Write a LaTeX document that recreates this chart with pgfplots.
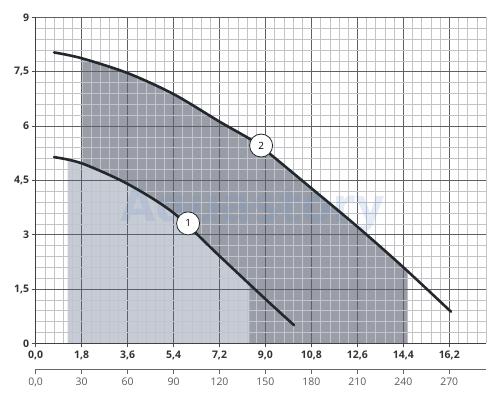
\documentclass[border=0pt]{standalone}
\usepackage{pgfplots}
\pgfplotsset{compat=1.18}
\usepgfplotslibrary{fillbetween}
\usepackage{fontspec}
\setmainfont{Open Sans}
\newfontfamily\wmfont{DejaVu Sans}
\definecolor{darkfill}{RGB}{152,157,168}
\definecolor{lightfill}{RGB}{198,204,214}
\definecolor{curvecol}{RGB}{35,40,45}
\definecolor{majgrid}{RGB}{95,95,100}
\definecolor{mingrid}{RGB}{195,195,200}
\definecolor{wm}{RGB}{110,150,200}
\begin{document}
\begin{tikzpicture}
\begin{axis}[
  set layers,
  at={(35.7bp,56.7bp)}, anchor=south west,
  scale only axis, width=450.3bp, height=326bp,
  xmin=0, xmax=17.64, ymin=0, ymax=9,
  axis x line*=bottom, axis y line*=left,
  axis line style={-, draw=black!75, line width=1.1bp},
  xtick={0,1.8,3.6,5.4,7.2,9,10.8,12.6,14.4,16.2},
  xticklabels={{0,0},{1,8},{3,6},{5,4},{7,2},{9,0},{10,8},{12,6},{14,4},{16,2}},
  ytick={0,1.5,3,4.5,6,7.5,9},
  yticklabels={0,{1,5},3,{4,5},6,{7,5},9},
  minor xtick={0,0.36,...,17.7},
  minor ytick={0,0.3,...,9.1},
  grid=both,
  major grid style={majgrid, line width=0.7bp},
  minor grid style={mingrid, line width=0.5bp},
  tick align=outside, major tick length=4bp, minor tick length=0pt,
  tick style={black!70, line width=0.8bp},
  ticklabel style={font=\fontsize{10.5}{12}\selectfont\bfseries, text=black!80},
  yticklabel style={xshift=1bp},
]
\addplot[name path=base, draw=none, forget plot] coordinates {(0,0) (17.64,0)};
\addplot[name path=c2, draw=none, smooth, forget plot] coordinates {
 (0.72,8.03) (1.8,7.87) (3.6,7.46) (5.4,6.88) (7.2,6.12) (8.44,5.62) (9.0,5.33)
 (10.8,4.28) (12.6,3.22) (14.4,2.10) (16.27,0.87)};
\addplot[name path=c1, draw=none, smooth, forget plot] coordinates {
 (0.72,5.14) (1.8,4.97) (3.6,4.40) (5.4,3.60) (7.2,2.41) (9.0,1.22) (10.12,0.50)};
\addplot[darkfill, forget plot] fill between[of=c2 and base, soft clip={(axis cs:1.83,-1) rectangle (axis cs:14.57,10)}, on layer=axis background];
\addplot[lightfill, forget plot] fill between[of=c1 and base, soft clip={(axis cs:1.25,-1) rectangle (axis cs:8.37,10)}, on layer=axis background];
\node[anchor=base, font=\wmfont\bfseries\fontsize{46}{50}\selectfont, text=wm, opacity=0.18] at (axis cs:8.5,3.35) {Aquastory};
\addplot[curvecol, line width=2.6bp, smooth, line cap=round] coordinates {
 (0.72,8.03) (1.8,7.87) (3.6,7.46) (5.4,6.88) (7.2,6.12) (8.44,5.62) (9.0,5.33)
 (10.8,4.28) (12.6,3.22) (14.4,2.10) (16.27,0.87)};
\addplot[curvecol, line width=2.6bp, smooth, line cap=round] coordinates {
 (0.72,5.14) (1.8,4.97) (3.6,4.40) (5.4,3.60) (7.2,2.41) (9.0,1.22) (10.12,0.50)};
\node[circle, draw=curvecol, line width=0.8bp, fill=white, minimum size=23bp, inner sep=0pt, font=\fontsize{10}{12}\selectfont] at (axis cs:5.97,3.31) {1};
\node[circle, draw=curvecol, line width=0.8bp, fill=white, minimum size=23bp, inner sep=0pt, font=\fontsize{10}{12}\selectfont] at (axis cs:8.83,5.46) {2};
\end{axis}
\begin{axis}[
  at={(35.7bp,30.7bp)}, anchor=south west,
  scale only axis, width=450.3bp, height=10bp,
  xmin=0, xmax=294, ymin=0, ymax=1,
  axis x line*=bottom, axis y line=none,
  axis line style={-, draw=black!60, line width=0.9bp},
  xtick={0,30,60,90,120,150,180,210,240,270},
  xticklabels={{0,0},30,60,90,120,150,180,210,240,270},
  tick align=outside, major tick length=5bp,
  tick style={black!60, line width=0.8bp},
  ticklabel style={font=\fontsize{10.5}{12}\selectfont, text=black!65},
]
\addplot[draw=none, forget plot] coordinates {(0,0) (294,1)};
\end{axis}
\path[use as bounding box] (0,0) rectangle (500bp,400bp);
\end{tikzpicture}
\end{document}
